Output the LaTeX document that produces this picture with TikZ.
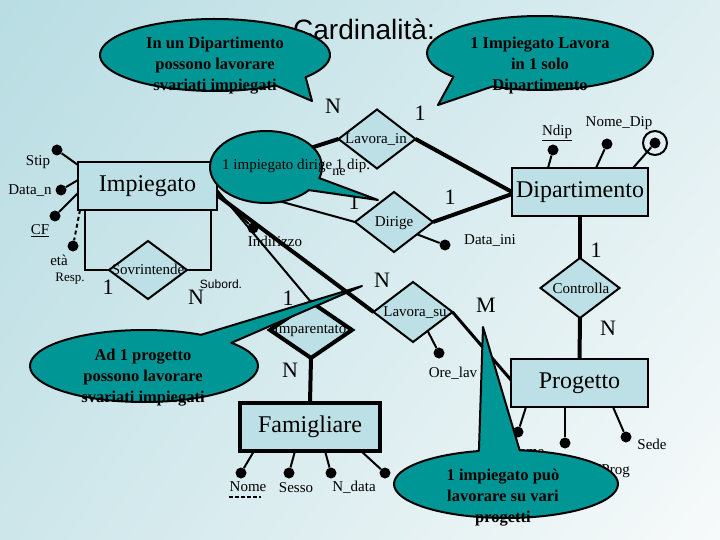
\documentclass[tikz,border=0pt]{standalone}
\usepackage{fontspec}
\setmainfont{Liberation Serif}
\newfontfamily\arialf{Liberation Sans}
\usetikzlibrary{shapes.geometric,calc,shadings}
\definecolor{entfill}{RGB}{188,224,229}
\definecolor{callteal}{RGB}{0,150,150}
\definecolor{bgA}{RGB}{184,221,227}
\definecolor{bgB}{RGB}{222,238,241}
\definecolor{bgC}{RGB}{205,230,234}
\definecolor{bgD}{RGB}{247,250,250}
\begin{document}
\begin{tikzpicture}[x=1pt,y=-1pt,
  ent/.style={draw, line width=2pt, fill=entfill, rectangle, inner sep=0pt, outer sep=0pt, font=\fontsize{24}{28}\selectfont},
  rel/.style={draw, diamond, line width=2pt, fill=entfill, inner sep=0pt, outer sep=0pt},
  reltext/.style={font=\fontsize{15}{18}\selectfont, inner sep=0pt},
  dotn/.style={circle, fill=black, inner sep=0pt, minimum size=11pt},
  lbl/.style={font=\fontsize{15}{18}\selectfont, inner sep=0pt},
  smalllbl/.style={font=\fontsize{13}{16}\selectfont, inner sep=0pt},
  card/.style={font=\fontsize{22}{26}\selectfont, inner sep=0pt},
  thk/.style={line width=4pt},
  thn/.style={line width=2pt},
  callout/.style={fill=callteal, draw=black, line width=2pt, line join=round},
  ctext/.style={font=\fontsize{16.5}{21}\selectfont\bfseries, align=center, inner sep=0pt},
]
\useasboundingbox (0,0) rectangle (720,540);
\shade[upper left=bgA, upper right=bgB, lower left=bgC, lower right=bgD] (0,0) rectangle (720,540);

% title
\node[font=\arialf\fontsize{28}{32}\selectfont, anchor=base west, inner sep=0pt] (title) at (293,40) {Cardinalità:};

% entities
\node[ent, minimum width=139, minimum height=48] (imp) at (147.5,186) {Impiegato};
\node[ent, minimum width=136, minimum height=48] (dip) at (580,192) {Dipartimento};
\node[ent, minimum width=137, minimum height=48] (prog) at (579.5,383) {Progetto};
\node[ent, line width=4pt, minimum width=140, minimum height=48] (fam) at (310,427) {Famigliare};

% relationships
\node[rel, minimum width=77, minimum height=59] (lin) at (377,139) {};
\node[rel, minimum width=78, minimum height=60] (dir) at (394,222) {};
\node[rel, minimum width=78, minimum height=58] (sov) at (148,270) {};
\node[rel, line width=4pt, minimum width=82, minimum height=56] (par) at (311,330) {};
\node[rel, minimum width=79, minimum height=60] (ls) at (413,312) {};
\node[rel, minimum width=79, minimum height=60] (ctl) at (580,288) {};

\node[reltext] (linT) at (376,140) {Lavora\_in};
\node[reltext] (dirT) at (394,223) {Dirige};
\node[reltext] (sovT) at (148,269) {Sovrintende};
\node[reltext] (parT) at (310,330) {Imparentato};
\node[reltext] (lsT) at (415,313) {Lavora\_su};
\node[reltext] (ctlT) at (581,288) {Controlla};

% relationship connectors
\draw[thk] ($(imp.east)+(0,-8)$) -- (lin.west);
\draw[thk] (lin.east) -- (dip.west);
\draw[thn] ($(imp.east)+(0,-2)$) -- (dir.west);
\draw[thk] (dir.east) -- ($(dip.west)+(0,2)$);
\draw[thk] ($(imp.east)+(0,9)$) -- (ls.west);
\draw[thn] ($(imp.east)+(0,4)$) -- (par.north);
\draw[thk] (par.south) -- (fam.north);
\draw[line width=3pt] (ls.east) -- ($(prog.west)+(0,-3)$);
\draw[thk] (dip.south) -- (ctl.north);
\draw[thk] (ctl.south) -- (prog.north);
\draw[thn] ($(imp.south west)+(7,0)$) |- (sov.west);
\draw[thn] ($(imp.south east)+(-6,0)$) |- (sov.east);

% attributes of Impiegato
\node[dotn] (stip) at (57,150) {};
\node[dotn] (datn) at (61,190) {};
\node[dotn] (cf) at (55,216) {};
\node[dotn] (eta) at (73,246) {};
\node[dotn] (indd) at (253,228) {};
\draw[thn] (stip) -- ($(imp.north west)+(0,3)$);
\draw[thn] (datn) -- ($(imp.north west)+(0,18)$);
\draw[thn] (cf) -- ($(imp.north west)+(0,31)$);
\draw[thn, dash pattern=on 4pt off 3pt] ($(imp.south west)+(2,0)$) -- (eta);
\draw[thn] ($(imp.east)+(0,6)$) -- (indd);
\node[lbl] (stipT) at (38,162) {Stip};
\node[lbl] (datnT) at (30,191) {Data\_n};
\node[lbl] (cfT) at (40,231) {\underline{CF}};
\node[lbl] (etaT) at (59,260) {età};
\node[smalllbl] (respT) at (70,279) {Resp.};
\node[inner sep=0pt, font=\arialf\fontsize{12}{14}\selectfont] (subT) at (221,284) {Subord.};
\node[lbl] (indT) at (275,241) {Indirizzo};

% relationship attributes
\node[dotn] (dini) at (445,245) {};
\draw[thn] ($(dir.south)!0.59!(dir.east)$) -- (dini);
\node[lbl] (diniT) at (490,241) {Data\_ini};
\node[dotn] (orel) at (439,353) {};
\draw[thn] ($(ls.south)!0.37!(ls.east)$) -- (orel);
\node[lbl] (orelT) at (453,373) {Ore\_lav};

% attributes of Dipartimento
\node[dotn] (ndip) at (553,150) {};
\node[dotn] (ndd) at (607,144) {};
\node[dotn] (mv) at (655,143) {};
\node[circle, draw, line width=2pt, minimum size=24pt, inner sep=0pt] (mvc) at (655,143) {};
\draw[thn] (ndip) -- ($(dip.north west)+(36,0)$);
\draw[thn] (ndd) -- ($(dip.north west)+(84,0)$);
\draw[thn] (mv) -- ($(dip.north west)+(121,0)$);
\node[lbl] (ndipT) at (557,133) {\underline{Ndip}};
\node[lbl] (nddT) at (619,123) {Nome\_Dip};

% attributes of Progetto
\node[dotn] (pa1) at (518,432) {};
\node[dotn] (pa2) at (565,443) {};
\node[dotn] (pa3) at (626,437) {};
\draw[thn] (pa1) -- ($(prog.south west)+(15,0)$);
\draw[thn] (pa2) -- ($(prog.south west)+(54,0)$);
\draw[thn] (pa3) -- ($(prog.south west)+(102,0)$);
\node[lbl] (sedeT) at (652,444) {Sede};
\node[lbl, anchor=east] (nprT) at (630,471) {NProg};
\node[lbl] (npT) at (526,452) {Nome};

% attributes of Famigliare
\node[dotn] (fa1) at (241,473) {};
\node[dotn] (fa2) at (289,473) {};
\node[dotn] (fa3) at (331,473) {};
\node[dotn] (fa4) at (385,473) {};
\draw[thn] (fa1) -- ($(fam.south west)+(14,0)$);
\draw[thn] (fa2) -- ($(fam.south west)+(55,0)$);
\draw[thn] (fa3) -- ($(fam.south west)+(85,0)$);
\draw[thn] (fa4) -- ($(fam.south west)+(121,0)$);
\node[lbl] (nomeT) at (248,487) {Nome};
\node[lbl] (sessoT) at (296,488) {Sesso};
\node[lbl] (ndataT) at (354,487) {N\_data};
\draw[line width=1.5pt, dash pattern=on 4pt off 2pt] ($(nomeT.south west)+(0,5)$) -- ($(nomeT.south east)+(-6,5)$);

% cardinalities
\node[card] at (333,106) {N};
\node[card] at (420,113) {1};
\node[card] at (354,202) {1};
\node[card] at (450,197) {1};
\node[card] at (596,250) {1};
\node[card] at (382,280) {N};
\node[card] at (288,298) {1};
\node[card] at (486,305) {M};
\node[card] at (608,328) {N};
\node[card] at (290,370) {N};
\node[card] at (108,287) {1};
\node[card] at (196,297) {N};

% callouts
\path[callout] (312,101) -- ($(215,55)+(58:115 and 36)$) arc[start angle=58,end angle=398,x radius=115,y radius=36] -- cycle;
\node[ctext] (c1T) at (215,66) {In un Dipartimento\\possono lavorare\\svariati impiegati};

\path[callout] (438,105) -- ($(540,53)+(140:113 and 37)$) arc[start angle=140,end angle=475,x radius=113,y radius=37] -- cycle;
\node[ctext] (c2T) at (540,66) {1 Impiegato Lavora\\in 1 solo\\Dipartimento};

\path[callout] (378,200) -- ($(266,167)+(40:56 and 36)$) arc[start angle=40,end angle=378,x radius=56,y radius=36] -- cycle;
\node[font=\fontsize{15}{18}\selectfont, anchor=west, inner sep=0pt] (c3T) at (222,166) {1 impiegato dirige 1 dip.};
\node[font=\fontsize{14}{16}\selectfont, inner sep=0pt] (c3x) at (339,172) {ne};

\path[callout] (362,286) -- ($(144,366)+(320:114 and 36)$) arc[start angle=320,end angle=660,x radius=114,y radius=36] -- cycle;
\node[ctext] (c4T) at (143,378) {Ad 1 progetto\\possono lavorare\\svariati impiegati};

\path[callout] (483,327) -- ($(506,484)+(277:112 and 34)$) arc[start angle=277,end angle=616,x radius=112,y radius=34] -- cycle;
\node[ctext] (c5T) at (503,498) {1 impiegato può\\lavorare su vari\\progetti};
\end{tikzpicture}
\end{document}
